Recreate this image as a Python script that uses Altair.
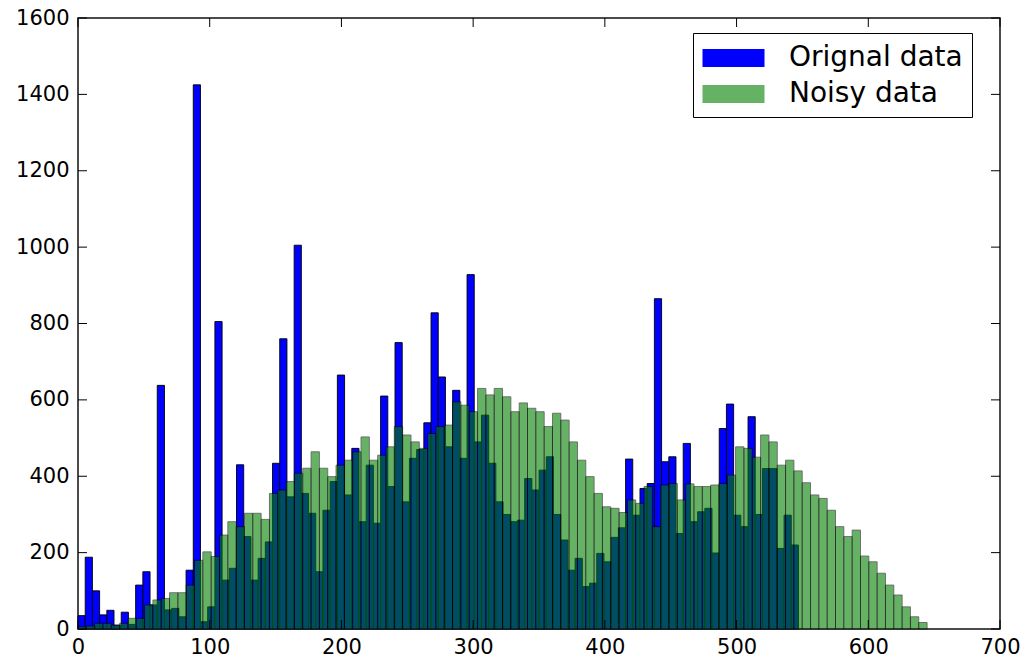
import altair as alt
import pandas as pd

# ---- data ----
series_names = ["Orignal data", "Noisy data"]
series_colors = ["#0000ff", "#008000"]
series_alpha = [1.0, 0.6]

blue_bin_width = 5.47
green_bin_width = 6.32

blue_counts = [
    35, 188, 100, 37, 49, 10, 44, 12, 115, 150,
    63, 638, 50, 54, 32, 154, 1425, 19, 58, 805,
    128, 159, 430, 242, 128, 185, 228, 434, 760, 346,
    1005, 355, 303, 150, 311, 386, 665, 351, 473, 281,
    429, 277, 610, 373, 750, 333, 447, 470, 540, 828,
    660, 477, 625, 447, 928, 490, 560, 434, 333, 300,
    281, 285, 394, 364, 416, 451, 300, 233, 154, 185,
    111, 120, 198, 176, 240, 265, 445, 298, 368, 381,
    865, 438, 451, 250, 486, 281, 307, 316, 199, 525,
    589, 298, 268, 556, 300, 420, 420, 211, 298, 220,
]

green_counts = [
    6, 8, 15, 15, 10, 15, 28, 28, 63, 76,
    80, 95, 95, 115, 180, 202, 190, 246, 281, 268,
    303, 303, 287, 355, 364, 386, 408, 421, 464, 421,
    399, 429, 442, 464, 503, 442, 455, 477, 530, 508,
    490, 473, 512, 530, 534, 595, 586, 569, 630, 613,
    630, 608, 569, 592, 578, 569, 530, 565, 547, 490,
    442, 399, 355, 320, 316, 305, 338, 329, 373, 268,
    377, 381, 338, 380, 373, 373, 377, 381, 403, 477,
    473, 450, 508, 490, 429, 442, 414, 383, 351, 342,
    311, 268, 242, 259, 191, 176, 146, 115, 89, 58,
    32, 17,
]

x_ticks = [0, 100, 200, 300, 400, 500, 600, 700]
y_ticks = [0, 200, 400, 600, 800, 1000, 1200, 1400, 1600]

# ---- build table ----
rows = []
for i, v in enumerate(blue_counts):
    rows.append({"series": series_names[0], "x0": i * blue_bin_width,
                 "x1": (i + 1) * blue_bin_width, "count": v})
for j, v in enumerate(green_counts):
    rows.append({"series": series_names[1], "x0": j * green_bin_width,
                 "x1": (j + 1) * green_bin_width, "count": v})
df = pd.DataFrame(rows)

W, H = 922, 611
TICK = 9
FONT = "DejaVu Sans"

xscale = alt.Scale(domain=[0, 700], nice=False, zero=False)
yscale = alt.Scale(domain=[0, 1600], nice=False)

x_axis = alt.Axis(values=x_ticks, title=None, ticks=False, domain=False,
                  grid=False, labelFontSize=21, labelPadding=7, labelFlush=False,
                  format="d", labelFont=FONT, labelColor="black")
y_axis = alt.Axis(values=y_ticks, title=None, ticks=False, domain=False,
                  grid=False, labelFontSize=21, labelPadding=9, labelFlush=False,
                  format="d", labelFont=FONT, labelColor="black")

legend = alt.Legend(
    title=None, orient="none", legendX=615, legendY=15,
    symbolType="M-1,-0.58H3V0.58H-1Z", symbolSize=961,
    symbolStrokeColor="black", symbolStrokeWidth=1,
    labelFontSize=28, labelFont=FONT, labelColor="black", labelLimit=400,
    labelOffset=55, padding=9, rowPadding=6,
    strokeColor="black", fillColor="white",
)

bars = alt.Chart(df).mark_bar(stroke="black", strokeWidth=0.9).encode(
    x=alt.X("x0:Q", scale=xscale, axis=x_axis),
    x2="x1:Q",
    y=alt.Y("count:Q", scale=yscale, axis=y_axis),
    y2=alt.datum(0),
    color=alt.Color("series:N", scale=alt.Scale(domain=series_names, range=series_colors),
                    legend=legend),
    opacity=alt.Opacity("series:N", scale=alt.Scale(domain=series_names, range=series_alpha),
                        legend=legend),
)

ydf = pd.DataFrame({"v": y_ticks})
xdf = pd.DataFrame({"v": x_ticks})

yt_left = alt.Chart(ydf).mark_rule(color="black", strokeWidth=1).encode(
    y=alt.Y("v:Q", scale=yscale, axis=y_axis), x=alt.value(0), x2=alt.value(TICK))
yt_right = alt.Chart(ydf).mark_rule(color="black", strokeWidth=1).encode(
    y=alt.Y("v:Q", scale=yscale, axis=y_axis), x=alt.value(W - TICK), x2=alt.value(W))
xt_bottom = alt.Chart(xdf).mark_rule(color="black", strokeWidth=1).encode(
    x=alt.X("v:Q", scale=xscale, axis=x_axis), y=alt.value(H - TICK), y2=alt.value(H))
xt_top = alt.Chart(xdf).mark_rule(color="black", strokeWidth=1).encode(
    x=alt.X("v:Q", scale=xscale, axis=x_axis), y=alt.value(0), y2=alt.value(TICK))

chart = alt.layer(bars, yt_left, yt_right, xt_bottom, xt_top).properties(
    width=W, height=H,
    autosize=alt.AutoSizeParams(type="none"),
    padding={"left": 78, "top": 18, "right": 24, "bottom": 30},
    background="white",
).configure_view(stroke="#111111", strokeWidth=1.5)

chart.save("out.html", embed_options={"renderer": "svg", "actions": False})
